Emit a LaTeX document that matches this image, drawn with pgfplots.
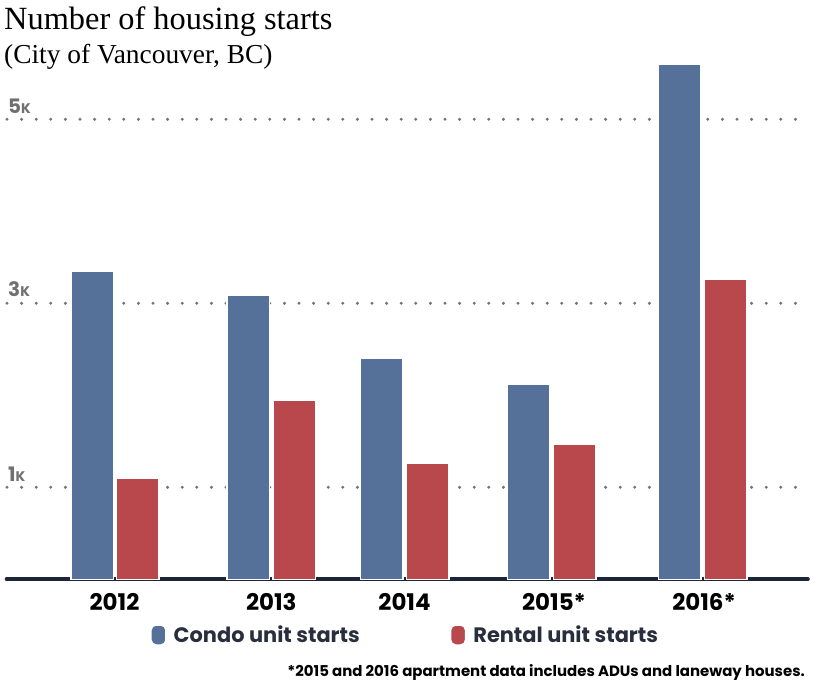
\documentclass[border=0pt]{standalone}
\usepackage{pgfplots}
\pgfplotsset{compat=1.18}
\usepackage{fontspec}
\setmainfont{Liberation Serif}
\newfontfamily\pop{Poppins}
\definecolor{condo}{RGB}{85,112,153}
\definecolor{rental}{RGB}{185,72,76}
\definecolor{navy}{RGB}{28,38,56}
\definecolor{legtext}{RGB}{40,46,60}
\definecolor{dotgray}{RGB}{115,115,115}
\definecolor{labgray}{RGB}{112,112,112}
\begin{document}
\begin{tikzpicture}
\begin{axis}[
  scale only axis, width=803bp, height=579.3bp,
  xmin=5, xmax=808, ymin=0, ymax=6.297,
  clip=false,
  axis lines*=left,
  x axis line style={navy, line width=3.6bp, line cap=round, shorten <=1.5bp},
  y axis line style={draw=none},
  major tick length=0pt,
  xtick={114.5,271.3,404.5,554,704},
  xticklabels={2012,2013,2014,2015*,2016*},
  xticklabel style={font=\pop\bfseries\fontsize{23}{23}\selectfont, anchor=north, inner sep=0pt, yshift=-14bp},
  ytick={1,3,5},
  yticklabels={1{\fontsize{14}{14}\selectfont K},3{\fontsize{14}{14}\selectfont K},5{\fontsize{14}{14}\selectfont K}},
  yticklabel style={font=\pop\bfseries\fontsize{20}{20}\selectfont, text=labgray, anchor=south west, inner sep=0pt, xshift=3bp, yshift=6bp},
  ymajorgrids,
  grid style={dotgray, line width=3.3bp, line cap=round, dash pattern=on 0bp off 14.6bp, dash phase=-2bp},
  legend columns=2,
  legend style={at={(0.1806,-0.0962)}, anchor=west, draw=none, fill=none, inner sep=0pt,
    font=\pop\bfseries\fontsize{21}{21}\selectfont, text=legtext,
    nodes={inner sep=0pt},
    /tikz/every odd column/.append style={column sep=7bp},
    /tikz/every even column/.append style={column sep=90bp}},
]
\addplot[ybar, bar shift=0pt, bar width=42.5, fill=condo, draw=white, line width=1.5bp,
  legend image code/.code={\path[fill=condo, rounded corners=5bp] (0bp,-10bp) rectangle (15bp,10bp);}]
  coordinates {(92,3.345) (248,3.082) (381.5,2.405) (528.5,2.12) (679.5,5.593)};
\addlegendentry{Condo unit starts}
\addplot[ybar, bar shift=0pt, bar width=42.5, fill=rental, draw=white, line width=1.5bp,
  legend image code/.code={\path[fill=rental, rounded corners=5bp] (0bp,-10bp) rectangle (15bp,10bp);}]
  coordinates {(137.5,1.097) (294,1.951) (427.5,1.263) (574.5,1.467) (725.5,3.256)};
\addlegendentry{Rental unit starts}
\node[anchor=base west, inner sep=0pt, font=\fontsize{32.5}{32.5}\selectfont] at (axis cs:4,5.978) {Number of housing starts};
\node[anchor=base west, inner sep=0pt, font=\fontsize{27.5}{27.5}\selectfont] at (axis cs:4,5.608) {(City of Vancouver, BC)};
\node[anchor=base east, inner sep=0pt, font=\pop\bfseries\fontsize{15}{15}\selectfont] at (axis cs:805,-1.062) {*2015 and 2016 apartment data includes ADUs and laneway houses.};
\coordinate (BL) at (axis cs:0,-1.1924);
\coordinate (TR) at (axis cs:820,6.2967);
\end{axis}
\pgfresetboundingbox
\path[use as bounding box] (BL) rectangle (TR);
\end{tikzpicture}
\end{document}
